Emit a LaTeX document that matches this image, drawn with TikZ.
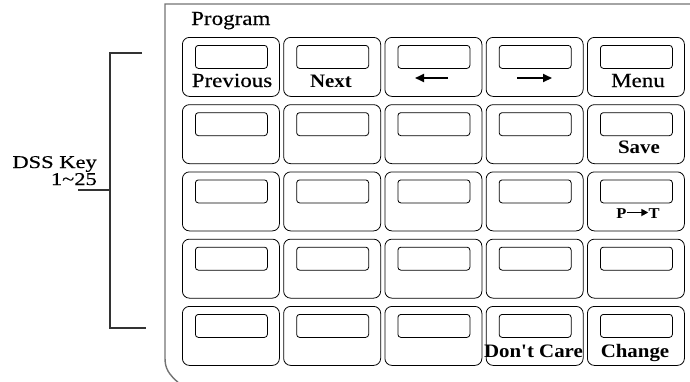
\documentclass[tikz,border=0pt]{standalone}
\usepackage{fontspec}
\setmainfont{Liberation Serif}
\newfontfamily\regf{Liberation Serif}[FakeStretch=1.15, FakeBold=0.4]
\newfontfamily\dssf{Liberation Serif}[FakeStretch=1.25, FakeBold=0.4]
\newfontfamily\boldf{Liberation Serif}[FakeStretch=1.1]
\usetikzlibrary{arrows.meta}
\tikzset{
  keybox/.style={draw=black, line width=0.8pt, rounded corners=7pt, minimum width=97pt, minimum height=59pt, inner sep=0pt, anchor=north west},
  window/.style={draw=black, line width=0.8pt, rounded corners=3pt, minimum width=72pt, minimum height=23pt, inner sep=0pt, anchor=north west},
  reglbl/.style={inner sep=0pt, anchor=base, font=\regf\fontsize{20}{20}\selectfont},
  dsslbl/.style={inner sep=0pt, anchor=base east, font=\dssf\fontsize{18}{18}\selectfont},
  boldlbl/.style={inner sep=0pt, anchor=base, font=\boldf\fontsize{19}{19}\selectfont\bfseries},
  smallbold/.style={inner sep=0pt, anchor=base, font=\boldf\fontsize{15}{15}\selectfont\bfseries},
  keyarrow/.style={line width=2pt, -{Triangle[length=9pt,width=8pt]}},
  panel/.style={draw=black!55, line width=1.4pt},
  bracketline/.style={draw=black!80, line width=1.3pt},
}
\begin{document}
\begin{tikzpicture}[x=1pt,y=-1pt]
\useasboundingbox (0,0) rectangle (690,381);
\begin{scope}
\clip (0,0) rectangle (690,381);
\draw[panel] (690,4) -- (165,4) -- (165,358) .. controls (165,368) and (168,374) .. (180,384);
\end{scope}
% bracket
\coordinate (bt) at (110,53);
\coordinate (btr) at (142,53);
\coordinate (bb) at (110,328);
\coordinate (bbr) at (146,328);
\coordinate (bm) at (110,190);
\coordinate (bml) at (78,190);
\draw[bracketline] (btr) -- (bt) -- (bb) -- (bbr);
\draw[bracketline] (bml) -- (bm);
\node[dsslbl] (dssA) at (97,168) {DSS Key};
\node[dsslbl] (dssB) at (97,185) {1\char`~25};
\node[reglbl, anchor=base west] (prog) at (191,25) {Program};
% keys
\foreach \i in {0,...,4}{
  \foreach \j in {0,...,4}{
    \pgfmathsetmacro{\kx}{182+101.25*\i}
    \pgfmathsetmacro{\ky}{37+67.25*\j}
    \node[keybox] (k\i\j) at (\kx,\ky) {};
    \node[window] (w\i\j) at (\kx+13,\ky+8) {};
  }
}
% labels
\node[reglbl] (lprev) at (232,87) {Previous};
\node[boldlbl] (lnext) at (331,87) {Next};
\node[reglbl] (lmenu) at (638,87) {Menu};
\node[boldlbl] (lsave) at (639,153) {Save};
\node[smallbold] (lp) at (621.5,218) {P};
\node[smallbold] (lt) at (654,218) {T};
\draw[line width=1.6pt, -{Triangle[length=7pt,width=7pt]}] (lp.east |- 0,212.5) -- (lt.west |- 0,212.5);
\node[boldlbl] (ldc) at (533.5,357) {Don't Care};
\node[boldlbl] (lch) at (635,357) {Change};
% arrows
\draw[keyarrow] (448,78) -- (415,78);
\draw[keyarrow] (517,78) -- (552,78);
\end{tikzpicture}
\end{document}
